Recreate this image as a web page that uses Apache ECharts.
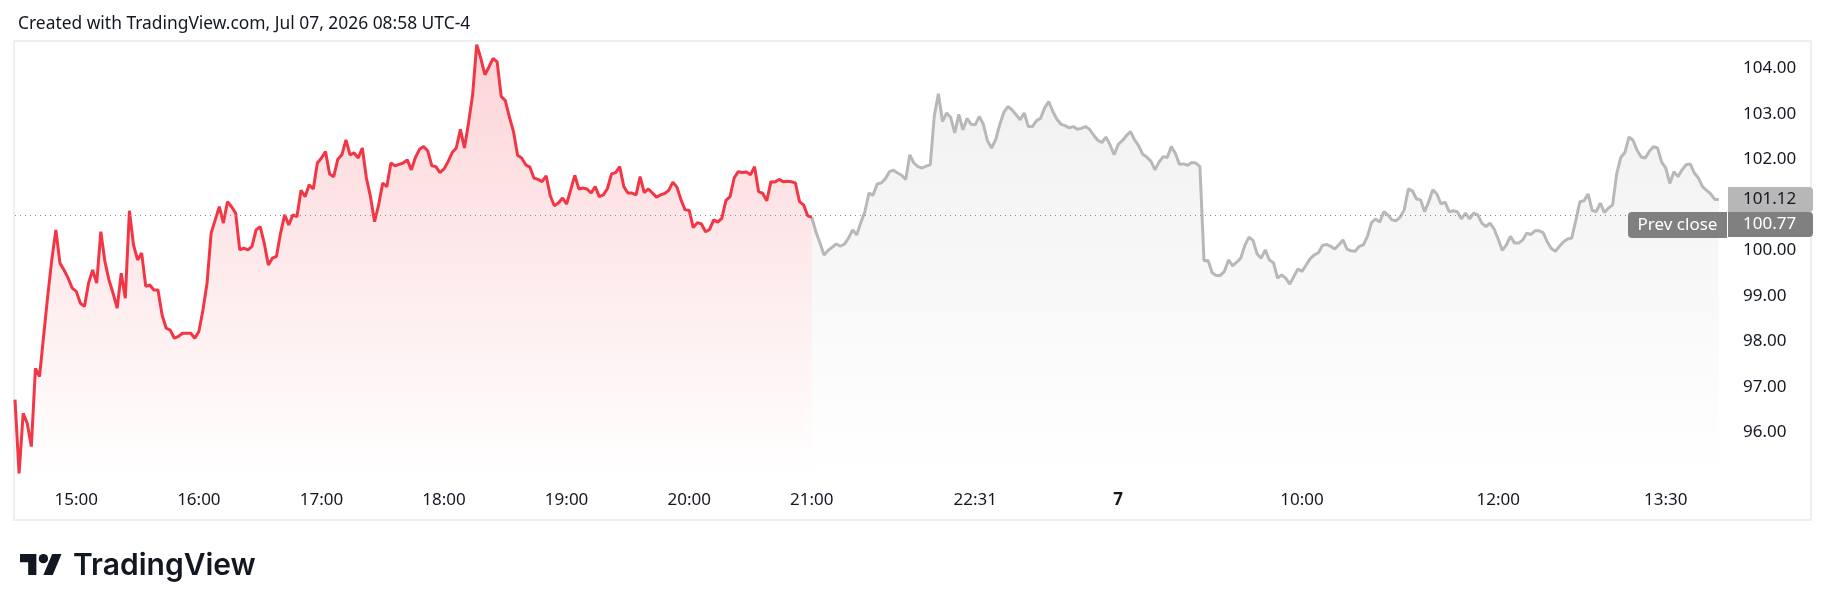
<!DOCTYPE html>
<html>
<head>
<meta charset="utf-8">
<script src="https://cdn.jsdelivr.net/npm/echarts@6/dist/echarts.min.js"></script>
<style>
  html, body { margin: 0; padding: 0; background: #ffffff; }
  #chart { width: 1830px; height: 611px; }
</style>
</head>
<body>
<div id="chart"></div>
<script>
// ---- DATA ----
// Regular session (red), 2-minute slots from 14:30 to 21:00
const sessionPrices = [
  96.72, 95.10, 96.42, 96.20, 95.69, 97.41, 97.23, 98.11, 98.99, 99.79,
  100.45, 99.72, 99.57, 99.39, 99.17, 99.10, 98.84, 98.77, 99.28, 99.57,
  99.28, 100.41, 99.76, 99.35, 99.06, 98.73, 99.50, 98.95, 100.87, 100.12,
  99.79, 99.94, 99.21, 99.24, 99.13, 99.13, 98.58, 98.29, 98.25, 98.07,
  98.11, 98.18, 98.18, 98.18, 98.07, 98.22, 98.69, 99.28, 100.38, 100.67,
  100.96, 100.60, 101.07, 100.96, 100.82, 100.01, 100.05, 100.01, 100.09, 100.45,
  100.52, 100.16, 99.68, 99.83, 99.87, 100.38, 100.78, 100.56, 100.78, 100.74,
  101.32, 101.18, 101.44, 101.35, 101.92, 102.03, 102.17, 101.68, 101.62, 102.00,
  102.10, 102.43, 102.10, 102.14, 102.03, 102.25, 101.59, 101.18, 100.63, 101.00,
  101.48, 101.40, 101.92, 101.86, 101.89, 101.92, 101.99, 101.77, 102.04, 102.22,
  102.28, 102.19, 101.86, 101.84, 101.71, 101.79, 101.95, 102.15, 102.25, 102.66,
  102.25, 102.80, 103.42, 104.52, 104.22, 103.86, 104.03, 104.22, 104.14, 103.38,
  103.29, 102.93, 102.61, 102.09, 102.03, 101.88, 101.83, 101.59, 101.56, 101.51,
  101.64, 101.20, 100.98, 101.04, 101.15, 101.02, 101.33, 101.65, 101.35, 101.37,
  101.35, 101.26, 101.40, 101.18, 101.22, 101.36, 101.68, 101.71, 101.84, 101.40,
  101.26, 101.26, 101.22, 101.62, 101.27, 101.35, 101.26, 101.17, 101.22, 101.25,
  101.32, 101.50, 101.39, 101.11, 100.89, 100.88, 100.50, 100.61, 100.58, 100.41,
  100.46, 100.67, 100.62, 100.71, 101.10, 101.18, 101.59, 101.73, 101.71, 101.72,
  101.66, 101.84, 101.29, 101.25, 101.09, 101.51, 101.50, 101.56, 101.51, 101.52,
  101.51, 101.48, 101.07, 101.00, 100.76, 100.73
];
// Extended hours (grey), starting at the 21:00 slot
const extendedPrices = [
  100.73, 100.41, 100.17, 99.90, 100.00, 100.07, 100.14, 100.09, 100.14, 100.27,
  100.45, 100.34, 100.61, 100.85, 101.26, 101.21, 101.46, 101.48, 101.57, 101.73,
  101.76, 101.70, 101.65, 101.56, 102.10, 101.92, 101.84, 101.81, 101.85, 101.88,
  102.96, 103.44, 102.83, 103.02, 102.92, 102.58, 102.99, 102.65, 102.90, 102.77,
  102.76, 102.94, 102.77, 102.41, 102.25, 102.43, 102.76, 103.03, 103.16, 103.09,
  102.98, 102.87, 103.02, 102.72, 102.72, 102.85, 102.90, 103.13, 103.27, 103.05,
  102.88, 102.77, 102.74, 102.69, 102.72, 102.66, 102.68, 102.72, 102.66, 102.53,
  102.42, 102.37, 102.49, 102.32, 102.10, 102.33, 102.41, 102.52, 102.61, 102.43,
  102.30, 102.11, 102.05, 101.96, 101.77, 101.94, 102.06, 102.04, 102.28, 102.13,
  101.89, 101.90, 101.87, 101.93, 101.92, 101.84, 99.77, 99.78, 99.51, 99.45,
  99.45, 99.54, 99.79, 99.66, 99.74, 99.83, 100.11, 100.29, 100.22, 99.92,
  99.83, 100.01, 99.79, 99.73, 99.39, 99.46, 99.39, 99.26, 99.43, 99.59,
  99.54, 99.68, 99.82, 99.90, 99.95, 100.11, 100.13, 100.09, 100.03, 100.12,
  100.23, 100.03, 99.99, 99.98, 100.09, 100.12, 100.31, 100.61, 100.69, 100.62,
  100.85, 100.78, 100.67, 100.65, 100.73, 100.89, 101.35, 101.31, 101.13, 101.11,
  100.85, 101.07, 101.33, 101.24, 101.02, 101.06, 100.85, 100.87, 100.85, 100.69,
  100.82, 100.69, 100.82, 100.78, 100.60, 100.52, 100.60, 100.47, 100.25, 100.00,
  100.12, 100.31, 100.16, 100.16, 100.23, 100.38, 100.35, 100.43, 100.43, 100.39,
  100.19, 100.04, 99.98, 100.09, 100.19, 100.25, 100.27, 100.66, 101.07, 101.09,
  101.24, 100.88, 100.85, 101.04, 100.83, 100.93, 101.00, 101.68, 102.04, 102.15,
  102.49, 102.42, 102.20, 102.05, 102.03, 102.18, 102.28, 102.25, 101.94, 101.81,
  101.47, 101.73, 101.62, 101.77, 101.88, 101.90, 101.70, 101.59, 101.40, 101.32,
  101.24, 101.12, 101.12
];
// Time-scale tick labels: [slot index, text]
const timeTicks = [
  [15, '15:00'], [45, '16:00'], [75, '17:00'], [105, '18:00'], [135, '19:00'],
  [165, '20:00'], [195, '21:00'], [235, '22:31'], [270, '7'], [315, '10:00'],
  [363, '12:00'], [404, '13:30']
];
const boldTicks = ['7'];
const priceTicks = [96, 97, 98, 99, 100, 101, 102, 103, 104];
const prevClose = 100.77;
const lastPrice = 101.12;
const titleText = 'Created with TradingView.com, Jul 07, 2026 08:58 UTC-4';

// ---- BUILD ----
const slotCount = 420;
const sessionEnd = sessionPrices.length - 1;
const categories = Array.from({ length: slotCount }, (_, i) => String(i));
const tickMap = new Map(timeTicks.map(t => [t[0], t[1]]));
const redData = sessionPrices.slice();
const greyData = Array(sessionEnd).fill('-').concat(extendedPrices);

const FONT = 'Noto Sans';
const TXT = '#131722';

const chart = echarts.init(document.getElementById('chart'), null, { renderer: 'canvas' });

const option = {
  animation: false,
  backgroundColor: '#ffffff',
  title: {
    text: titleText,
    left: 13, top: 11,
    textStyle: { fontFamily: FONT, fontSize: 17.4, fontWeight: 'normal', color: TXT }
  },
  grid: { left: 15, right: 103, top: 41, bottom: 133, containLabel: false, outerBoundsMode: 'none' },
  xAxis: {
    type: 'category',
    data: categories,
    boundaryGap: false,
    axisLine: { show: false },
    axisTick: { show: false },
    splitLine: { show: false },
    axisLabel: {
      interval: (idx) => tickMap.has(idx),
      formatter: (val, idx) => {
        const t = tickMap.get(Number(val));
        if (!t) return '';
        return boldTicks.includes(t) ? '{b|' + t + '}' : t;
      },
      hideOverlap: false,
      margin: 14,
      fontFamily: FONT, fontSize: 17, color: TXT,
      rich: { b: { fontFamily: FONT, fontSize: 17, fontWeight: 'bold', color: TXT } }
    }
  },
  yAxis: {
    type: 'value',
    position: 'right',
    min: 95, max: 104.6, interval: 1,
    axisLine: { show: false },
    axisTick: { show: false },
    splitLine: { show: false },
    axisLabel: {
      showMinLabel: false,
      showMaxLabel: false,
      formatter: (v) => priceTicks.includes(Math.round(v * 100) / 100) ? v.toFixed(2) : '',
      margin: 16,
      fontFamily: FONT, fontSize: 17, color: TXT
    }
  },
  series: [
    {
      name: 'Session',
      type: 'line',
      data: redData,
      showSymbol: false,
      symbol: 'none',
      lineStyle: { color: '#f23645', width: 3 },
      areaStyle: {
        origin: 'start',
        color: new echarts.graphic.LinearGradient(0, 0, 0, 1, [
          { offset: 0, color: 'rgba(242,54,69,0.30)' },
          { offset: 1, color: 'rgba(242,54,69,0.0)' }
        ])
      },
      z: 3
    },
    {
      name: 'Extended',
      type: 'line',
      data: greyData,
      showSymbol: false,
      symbol: 'none',
      lineStyle: { color: '#b8b8b8', width: 3 },
      areaStyle: {
        origin: 'start',
        color: new echarts.graphic.LinearGradient(0, 0, 0, 1, [
          { offset: 0, color: 'rgba(150,150,150,0.19)' },
          { offset: 1, color: 'rgba(150,150,150,0.0)' }
        ])
      },
      markLine: {
        silent: true,
        symbol: ['none', 'none'],
        label: { show: false },
        lineStyle: { color: '#8a8a8a', width: 1, type: [1, 4] },
        data: [{ yAxis: prevClose }]
      },
      z: 2
    }
  ]
};
chart.setOption(option);

// ---- GRAPHIC OVERLAYS (positions derived from the axis scale) ----
const s = 1.17, ox = 20, oy = 549.3;
const P = (x, y) => [ox + x * s, oy + y * s];
const yLast = chart.convertToPixel({ yAxisIndex: 0 }, lastPrice);
const yPrev = chart.convertToPixel({ yAxisIndex: 0 }, prevClose);
const boxH = 25;
const lastTop = yLast - boxH / 2;
const prevTop = Math.max(yPrev - boxH / 2, lastTop + boxH);
const axisX = 1728, axisW = 85, labelX = 1743;

chart.setOption({
  graphic: [
    { type: 'rect', z: 0, silent: true,
      shape: { x: 14, y: 41, width: 1797, height: 479 },
      style: { fill: 'none', stroke: '#efefef', lineWidth: 2 } },
    // logo
    { type: 'polygon', silent: true, shape: { points: [P(0,4), P(14,4), P(14,22), P(7,22), P(7,11), P(0,11)] }, style: { fill: TXT } },
    { type: 'circle', silent: true, shape: { cx: ox + 20 * s, cy: oy + 8 * s, r: 4 * s }, style: { fill: TXT } },
    { type: 'polygon', silent: true, shape: { points: [P(28,22), P(20,22), P(27.5,4), P(35.5,4)] }, style: { fill: TXT } },
    { type: 'text', silent: true, style: { x: 73, y: 566, text: 'TradingView', font: '600 30px Inter', fill: TXT, verticalAlign: 'middle' } },
    // last price box
    { type: 'rect', z: 10, silent: true, shape: { x: axisX, y: lastTop, width: axisW, height: boxH, r: [0, 4, 4, 0] }, style: { fill: '#b7b7b7' } },
    { type: 'text', z: 11, silent: true, style: { x: labelX, y: lastTop + boxH / 2, text: lastPrice.toFixed(2), font: '17px "' + FONT + '"', fill: TXT, verticalAlign: 'middle' } },
    // prev close value box
    { type: 'rect', z: 10, silent: true, shape: { x: axisX, y: prevTop, width: axisW, height: boxH, r: [0, 4, 4, 0] }, style: { fill: '#808080' } },
    { type: 'text', z: 11, silent: true, style: { x: labelX, y: prevTop + boxH / 2, text: prevClose.toFixed(2), font: '17px "' + FONT + '"', fill: '#ffffff', verticalAlign: 'middle' } },
    // prev close caption box
    { type: 'rect', z: 10, silent: true, shape: { x: 1628, y: prevTop, width: 99, height: boxH + 1, r: [4, 0, 0, 4] }, style: { fill: '#808080' } },
    { type: 'text', z: 11, silent: true, style: { x: 1677.5, y: prevTop + boxH / 2 + 0.5, text: 'Prev close', font: '17px "' + FONT + '"', fill: '#ffffff', align: 'center', verticalAlign: 'middle' } }
  ]
});
</script>
</body>
</html>
